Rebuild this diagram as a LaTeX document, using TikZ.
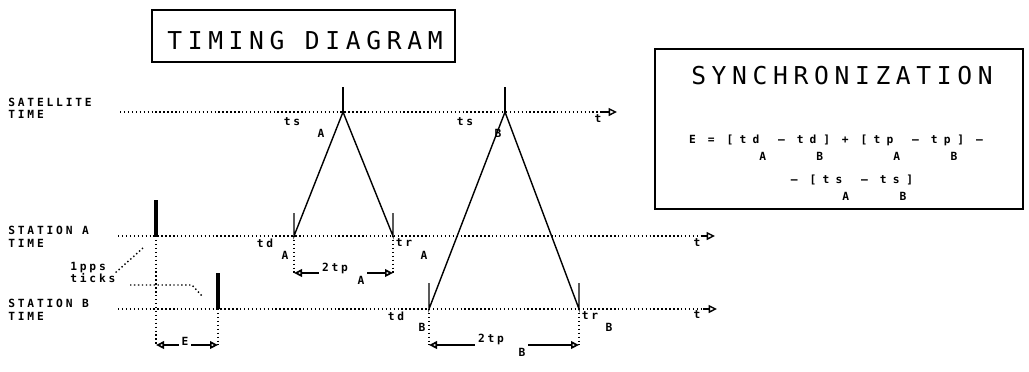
\documentclass[tikz,border=0pt]{standalone}
\usepackage{fontspec}
\usepackage{tikz}
\usetikzlibrary{arrows.meta}
\newfontfamily\plottitlefont{DejaVu Sans Mono}[LetterSpace=23]
\newfontfamily\plotlabelfont{DejaVu Sans Mono}[LetterSpace=25]
\newfontfamily\ploteqfont{DejaVu Sans Mono}[LetterSpace=55]
\colorlet{ink}{black}
\newcommand{\tdtitle}{\plottitlefont\fontsize{17.5}{20}\selectfont}
\newcommand{\tdsmall}{\plotlabelfont\bfseries\fontsize{8}{8.9}\selectfont\spaceskip=6.8pt\relax}
\newcommand{\tdeq}{\ploteqfont\bfseries\fontsize{8}{8.9}\selectfont\spaceskip=8.5pt\relax}
\newcommand{\lo}[1]{\raisebox{-12pt}{#1}}
\tikzset{
  timeaxis/.style={draw=ink, line width=1pt, dash pattern=on 1pt off 1.8pt},
  guide/.style={timeaxis},
  axisarrow/.style={-{Triangle[open,length=2.1mm,width=2mm]}, draw=ink, line width=1pt},
  dimarrow/.style={-{Triangle[open,length=2mm,width=1.9mm]}, draw=ink, line width=1.2pt},
  leg/.style={draw=ink, line width=1pt},
  ppstick/.style={draw=ink, line width=2.8pt},
  framebox/.style={draw=ink, line width=1.4pt, inner sep=0pt},
  titletext/.style={font=\tdtitle, text=ink, inner sep=0pt},
  stationlabel/.style={font=\tdsmall, text=ink, align=left, anchor=west, inner sep=0pt},
  plotlabel/.style={font=\tdsmall, text=ink, inner sep=0pt},
  dimlabel/.style={font=\tdsmall, text=ink, inner sep=2pt},
  eqtext/.style={font=\tdeq, text=ink, inner sep=0pt, anchor=base}
}

\begin{document}
\begin{tikzpicture}[x=0.025cm,y=-0.025cm]
  \useasboundingbox (0,0) rectangle (1029,371);

  % headings
  \node[framebox, minimum width=7.575cm, minimum height=1.3cm] (timingBox) at (303.5,36) {};
  \node[titletext] (timingTitle) at (305,41) {TIMING DIAGRAM};
  \node[framebox, minimum width=9.2cm, minimum height=4cm] (synchBox) at (839,129) {};
  \node[titletext] (synchTitle) at (842,76) {SYNCHRONIZATION};
  \node[eqtext] (eqOne) at (836,143.5) {E = [td\lo{A} – td\lo{B}] + [tp\lo{A} – tp\lo{B}] –};
  \node[eqtext] (eqTwo) at (852,183.5) {– [ts\lo{A} – ts\lo{B}]};

  % time axes
  \node[stationlabel] (satLabel) at (8,108.5) {SATELLITE\\TIME};
  \node[stationlabel] (staLabel) at (8,237) {STATION A\\TIME};
  \node[stationlabel] (stbLabel) at (8,310) {STATION B\\TIME};

  \coordinate (satStart) at (120,112);
  \coordinate (satEnd) at (602,112);
  \coordinate (satTip) at (617,112);
  \coordinate (staStart) at (118,236);
  \coordinate (staEnd) at (701,236);
  \coordinate (staTip) at (715,236);
  \coordinate (stbStart) at (118,309);
  \coordinate (stbEnd) at (703,309);
  \coordinate (stbTip) at (717,309);
  \draw[timeaxis] (satStart) -- (satEnd);
  \draw[axisarrow] (satEnd) -- (satTip);
  \draw[timeaxis] (staStart) -- (staEnd);
  \draw[axisarrow] (staEnd) -- (staTip);
  \draw[timeaxis] (stbStart) -- (stbEnd);
  \draw[axisarrow] (stbEnd) -- (stbTip);
  \node[plotlabel] (satT) at (598,119) {t};
  \node[plotlabel] (staT) at (697,243) {t};
  \node[plotlabel] (stbT) at (697,315) {t};

  % 1pps ticks
  \coordinate (tickAbase) at (156,236);
  \coordinate (tickAtop) at (156,200);
  \coordinate (tickBbase) at (218,309);
  \coordinate (tickBtop) at (218,273);
  \draw[ppstick] (tickAbase) -- (tickAtop);
  \draw[ppstick] (tickBbase) -- (tickBtop);
  \node[stationlabel] (ppsLabel) at (70,272.5) {1pps\\ticks};
  \coordinate (ppsAend) at (143,248);
  \coordinate (ppsBstart) at (130,285);
  \coordinate (ppsBknee) at (192,285);
  \coordinate (ppsBend) at (203,297);
  \draw[guide] (ppsLabel.east) -- (ppsAend);
  \draw[guide] (ppsBstart) -- (ppsBknee) -- (ppsBend);

  % station A exchange
  \coordinate (tsA) at (343,112);
  \coordinate (tsAmark) at (343,87);
  \coordinate (tdA) at (294,236);
  \coordinate (tdAmark) at (294,213);
  \coordinate (trA) at (393,236);
  \coordinate (trAmark) at (393,213);
  \draw[leg] (tsAmark) -- (tsA);
  \draw[leg] (tdAmark) -- (tdA) -- (tsA) -- (trA) -- (trAmark);
  \node[plotlabel] (tsAlabel) at (292,122) {ts};
  \node[plotlabel] (tsAsub) at (321,133) {A};
  \node[plotlabel] (tdAlabel) at (265,243) {td};
  \node[plotlabel] (tdAsub) at (285,255) {A};
  \node[plotlabel] (trAlabel) at (404,243) {tr};
  \node[plotlabel] (trAsub) at (424,255) {A};

  % station B exchange
  \coordinate (tsB) at (505,112);
  \coordinate (tsBmark) at (505,87);
  \coordinate (tdB) at (429,309);
  \coordinate (tdBmark) at (429,283);
  \coordinate (trB) at (579,309);
  \coordinate (trBmark) at (579,283);
  \draw[leg] (tsBmark) -- (tsB);
  \draw[leg] (tdBmark) -- (tdB) -- (tsB) -- (trB) -- (trBmark);
  \node[plotlabel] (tsBlabel) at (465,122) {ts};
  \node[plotlabel] (tsBsub) at (498,133) {B};
  \node[plotlabel] (tdBlabel) at (396,316) {td};
  \node[plotlabel] (tdBsub) at (422,327) {B};
  \node[plotlabel] (trBlabel) at (590,316) {tr};
  \node[plotlabel] (trBsub) at (609,327) {B};

  % dimensions
  \coordinate (tickAfoot) at (156,345);
  \coordinate (tickBfoot) at (218,345);
  \coordinate (tdAfoot) at (294,273);
  \coordinate (trAfoot) at (393,273);
  \coordinate (tdBfoot) at (429,345);
  \coordinate (trBfoot) at (579,345);
  \draw[guide] (tickAbase) -- (tickAfoot);
  \draw[guide] (tickBbase) -- (tickBfoot);
  \draw[guide] (tdA) -- (tdAfoot);
  \draw[guide] (trA) -- (trAfoot);
  \draw[guide] (tdB) -- (tdBfoot);
  \draw[guide] (trB) -- (trBfoot);

  \node[dimlabel] (eLabel) at (185,341) {E};
  \draw[dimarrow] (eLabel.west |- tickAfoot) -- (tickAfoot);
  \draw[dimarrow] (eLabel.east |- tickBfoot) -- (tickBfoot);

  \node[dimlabel] (tpAlabel) at (335,268) {2tp};
  \node[dimlabel] (tpAsub) at (361,280) {A};
  \draw[dimarrow] (tpAlabel.west |- tdAfoot) -- (tdAfoot);
  \draw[dimarrow] (tpAsub.east |- trAfoot) -- (trAfoot);

  \node[dimlabel] (tpBlabel) at (491,339) {2tp};
  \node[dimlabel] (tpBsub) at (522,352) {B};
  \draw[dimarrow] (tpBlabel.west |- tdBfoot) -- (tdBfoot);
  \draw[dimarrow] (tpBsub.east |- trBfoot) -- (trBfoot);
\end{tikzpicture}
\end{document}
